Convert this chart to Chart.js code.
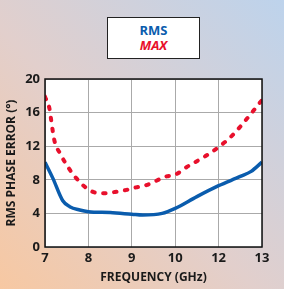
<!DOCTYPE html>
<html>
<head>
<meta charset="utf-8">
<script src="https://cdn.jsdelivr.net/npm/chart.js@4"></script>
<style>
  html, body { margin: 0; padding: 0; }
  body {
    width: 284px; height: 289px; overflow: hidden; position: relative;
    background: linear-gradient(to top right, #f7c8a2 0%, #e2cfcc 45%, #bdd3ec 100%);
    font-family: "Open Sans", sans-serif;
  }
  #wrap { position: absolute; left: 0; top: 0; width: 284px; height: 289px; }
  #legend {
    position: absolute; left: 107px; top: 17px; width: 93px; height: 42px;
    background: #fff; border: 1px solid #222; box-sizing: border-box;
    text-align: center; font-weight: bold; font-size: 13px; line-height: 15px;
    padding-top: 5px;
  }
  #legend .rms { color: #0a5cad; }
  #legend .max { color: #e8102c; font-style: italic; }
</style>
</head>
<body>
<div id="wrap"><canvas id="chart" width="284" height="289"></canvas></div>
<div id="legend"><div class="rms">RMS</div><div class="max">MAX</div></div>
<script>
// x tick labels as printed on the original (evenly spaced)
const xLabels = ['7', '8', '9', '10', '12', '13'];
const yTicks = [0, 4, 8, 12, 16, 20];

// positions along the x axis in label slots (0 = "7", 5 = "13")
const rmsX = [0, 0.18, 0.41, 0.57, 0.8, 1, 1.5, 2, 2.25, 2.7, 3, 3.5, 4, 4.5, 4.75, 5];
const rmsY = [10.1, 8.2, 5.5, 4.8, 4.4, 4.2, 4.1, 3.9, 3.8, 4.0, 4.6, 6.0, 7.3, 8.4, 9.0, 10.1];

const maxX = [0, 0.11, 0.15, 0.22, 0.34, 0.57, 0.72, 0.91, 1.14, 1.38, 1.61, 1.88, 2.1, 2.3, 2.8, 3, 3.26, 3.69, 4, 4.3, 4.64, 5];
const maxY = [17.9, 16.3, 14.8, 12.6, 11.2, 9.2, 8.2, 7.2, 6.5, 6.4, 6.55, 6.8, 7.1, 7.3, 8.4, 8.6, 9.5, 10.8, 11.9, 13.2, 15.2, 17.5];

const pts = (xs, ys) => xs.map((x, i) => ({ x: x, y: ys[i] }));

const plotBg = {
  id: 'plotBg',
  beforeDraw(chart) {
    const { ctx, chartArea: a } = chart;
    ctx.save();
    ctx.fillStyle = '#fff';
    ctx.fillRect(a.left, a.top, a.right - a.left, a.bottom - a.top);
    ctx.restore();
  },
  afterDatasetsDraw(chart) {
    const { ctx, chartArea: a } = chart;
    ctx.save();
    ctx.strokeStyle = '#111';
    ctx.lineWidth = 1.5;
    ctx.strokeRect(a.left, a.top, a.right - a.left, a.bottom - a.top);
    ctx.restore();
  }
};

const tickFont = { family: '"Open Sans", sans-serif', size: 13, weight: 'bold' };
const titleFont = { family: '"Open Sans", sans-serif', size: 12, weight: 'bold' };

new Chart(document.getElementById('chart'), {
  type: 'line',
  data: {
    datasets: [
      {
        label: 'RMS',
        data: pts(rmsX, rmsY),
        borderColor: '#0a5cad',
        borderWidth: 3.5,
        pointRadius: 0,
        tension: 0.4,
        cubicInterpolationMode: 'monotone'
      },
      {
        label: 'MAX',
        data: pts(maxX, maxY),
        borderColor: '#e8102c',
        borderWidth: 4,
        borderDash: [2.5, 8.5],
        borderCapStyle: 'round',
        pointRadius: 0,
        tension: 0.4,
        cubicInterpolationMode: 'monotone'
      }
    ]
  },
  options: {
    responsive: false,
    animation: false,
    layout: { padding: { top: 79, right: 22, left: 4, bottom: 0 } },
    plugins: { legend: { display: false }, tooltip: { enabled: false } },
    scales: {
      x: {
        type: 'linear',
        min: 0, max: 5,
        afterBuildTicks: s => { s.ticks = xLabels.map((l, i) => ({ value: i })); },
        afterFit: s => { s.height = 42; },
        ticks: {
          callback: (v, i) => xLabels[i],
          color: '#1a1a1a', font: tickFont, padding: 3, maxRotation: 0
        },
        grid: { color: '#aaa', lineWidth: 1, drawTicks: false },
        border: { display: false },
        title: { display: true, text: 'FREQUENCY (GHz)', color: '#1a1a1a', font: titleFont, padding: { top: 5 } }
      },
      y: {
        min: 0, max: 20,
        afterBuildTicks: s => { s.ticks = yTicks.map(v => ({ value: v })); },
        afterFit: s => { s.width = 41; },
        ticks: { color: '#1a1a1a', font: tickFont, padding: 5 },
        grid: { color: '#aaa', lineWidth: 1, drawTicks: false },
        border: { display: false },
        title: { display: true, text: 'RMS PHASE ERROR (°)', color: '#1a1a1a', font: titleFont, padding: 0 }
      }
    }
  },
  plugins: [plotBg]
});
</script>
</body>
</html>
